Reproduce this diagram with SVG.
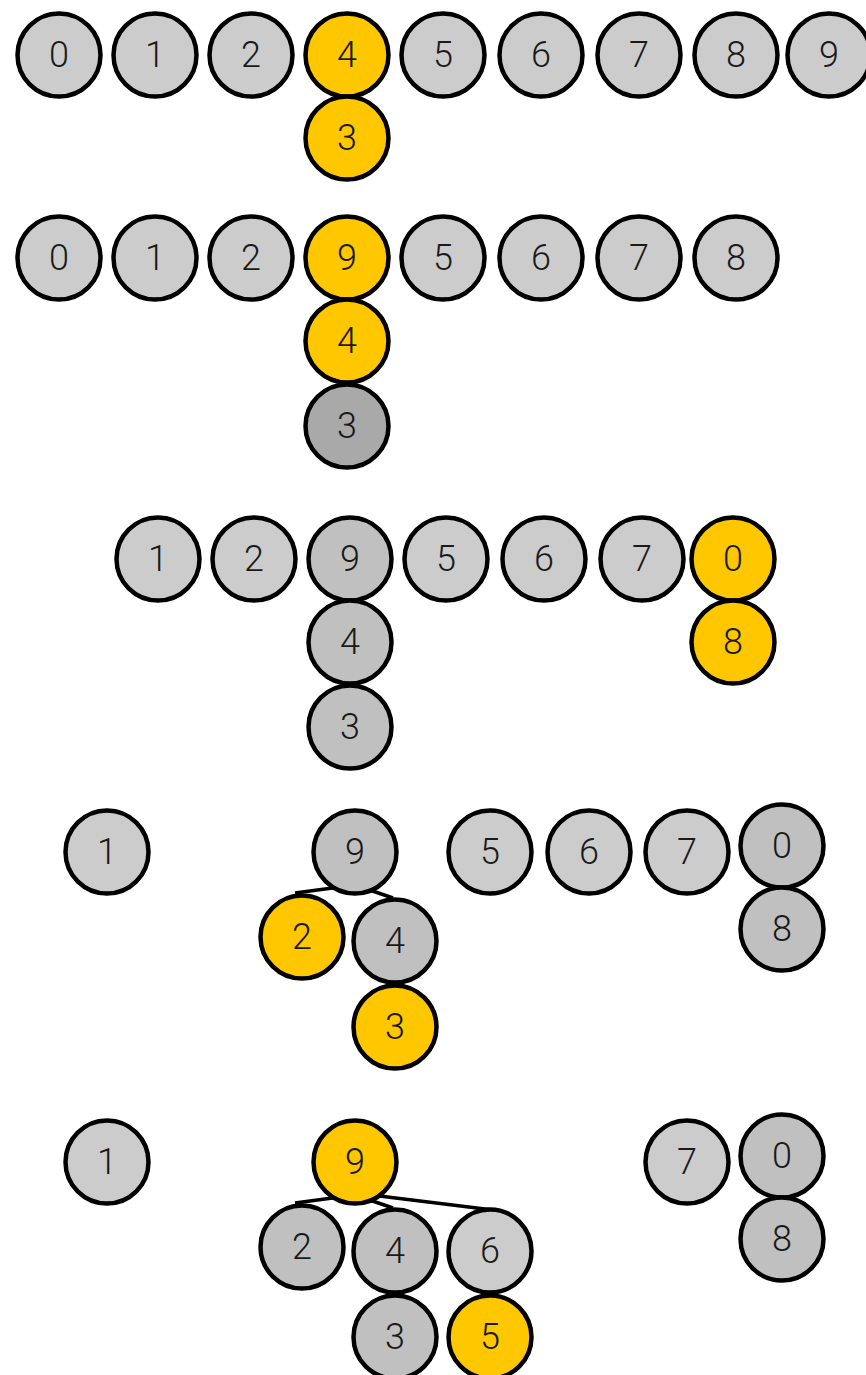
<svg xmlns="http://www.w3.org/2000/svg" width="866" height="1375" viewBox="0 0 866 1375">
<style>
circle{stroke:#000;stroke-width:4.5}
.s{fill:#cccccc}
.t{fill:#c0c0c0}
.g{fill:#ffc700}
.d{fill:#a9a9a9}
text{font-family:Roboto,"Open Sans","Liberation Sans",sans-serif;font-weight:300;font-size:36px;fill:#1a1a1a;text-anchor:middle;dominant-baseline:central}
.e line{stroke:#000;stroke-width:3.5}
</style>
<g id="connectors" class="e">
<line x1="295" y1="893" x2="355" y2="885"/>
<line x1="393" y1="898" x2="355" y2="885"/>
<line x1="295" y1="1203" x2="355" y2="1195"/>
<line x1="393" y1="1208" x2="355" y2="1195"/>
<line x1="355" y1="1193" x2="493" y2="1210"/>
</g>
<!-- Row 1 -->
<g id="r1n0"><circle class="s" cx="59" cy="55" r="41.5"/><text x="59" y="55">0</text></g>
<g id="r1n1"><circle class="s" cx="155" cy="55" r="41.5"/><text x="155" y="55">1</text></g>
<g id="r1n2"><circle class="s" cx="251" cy="55" r="41.5"/><text x="251" y="55">2</text></g>
<g id="r1n4"><circle class="g" cx="347" cy="55" r="41.5"/><text x="347" y="55">4</text></g>
<g id="r1n3"><circle class="g" cx="347" cy="138" r="41.5"/><text x="347" y="138">3</text></g>
<g id="r1n5"><circle class="s" cx="443" cy="55" r="41.5"/><text x="443" y="55">5</text></g>
<g id="r1n6"><circle class="s" cx="541" cy="55" r="41.5"/><text x="541" y="55">6</text></g>
<g id="r1n7"><circle class="s" cx="639" cy="55" r="41.5"/><text x="639" y="55">7</text></g>
<g id="r1n8"><circle class="s" cx="736" cy="55" r="41.5"/><text x="736" y="55">8</text></g>
<g id="r1n9"><circle class="s" cx="829" cy="55" r="41.5"/><text x="829" y="55">9</text></g>
<!-- Row 2 -->
<g id="r2n0"><circle class="s" cx="59" cy="258" r="41.5"/><text x="59" y="258">0</text></g>
<g id="r2n1"><circle class="s" cx="155" cy="258" r="41.5"/><text x="155" y="258">1</text></g>
<g id="r2n2"><circle class="s" cx="251" cy="258" r="41.5"/><text x="251" y="258">2</text></g>
<g id="r2n9"><circle class="g" cx="347" cy="258" r="41.5"/><text x="347" y="258">9</text></g>
<g id="r2n4"><circle class="g" cx="347" cy="341" r="41.5"/><text x="347" y="341">4</text></g>
<g id="r2n3"><circle class="d" cx="347" cy="426" r="41.5"/><text x="347" y="426">3</text></g>
<g id="r2n5"><circle class="s" cx="443" cy="258" r="41.5"/><text x="443" y="258">5</text></g>
<g id="r2n6"><circle class="s" cx="541" cy="258" r="41.5"/><text x="541" y="258">6</text></g>
<g id="r2n7"><circle class="s" cx="639" cy="258" r="41.5"/><text x="639" y="258">7</text></g>
<g id="r2n8"><circle class="s" cx="736" cy="258" r="41.5"/><text x="736" y="258">8</text></g>
<!-- Row 3 -->
<g id="r3n1"><circle class="s" cx="158" cy="559" r="41.5"/><text x="158" y="559">1</text></g>
<g id="r3n2"><circle class="s" cx="254" cy="559" r="41.5"/><text x="254" y="559">2</text></g>
<g id="r3n9"><circle class="t" cx="350" cy="559" r="41.5"/><text x="350" y="559">9</text></g>
<g id="r3n4"><circle class="t" cx="350" cy="642" r="41.5"/><text x="350" y="642">4</text></g>
<g id="r3n3"><circle class="t" cx="350" cy="727" r="41.5"/><text x="350" y="727">3</text></g>
<g id="r3n5"><circle class="s" cx="446" cy="559" r="41.5"/><text x="446" y="559">5</text></g>
<g id="r3n6"><circle class="s" cx="544" cy="559" r="41.5"/><text x="544" y="559">6</text></g>
<g id="r3n7"><circle class="s" cx="642" cy="559" r="41.5"/><text x="642" y="559">7</text></g>
<g id="r3n0"><circle class="g" cx="733" cy="559" r="41.5"/><text x="733" y="559">0</text></g>
<g id="r3n8"><circle class="g" cx="733" cy="642" r="41.5"/><text x="733" y="642">8</text></g>
<!-- Row 4 -->
<g id="r4n1"><circle class="s" cx="107" cy="852" r="41.5"/><text x="107" y="852">1</text></g>
<g id="r4n9"><circle class="t" cx="355" cy="852" r="41.5"/><text x="355" y="852">9</text></g>
<g id="r4n2"><circle class="g" cx="302" cy="937" r="41.5"/><text x="302" y="937">2</text></g>
<g id="r4n4"><circle class="t" cx="395" cy="941" r="41.5"/><text x="395" y="941">4</text></g>
<g id="r4n3"><circle class="g" cx="395" cy="1027" r="41.5"/><text x="395" y="1027">3</text></g>
<g id="r4n5"><circle class="s" cx="490" cy="852" r="41.5"/><text x="490" y="852">5</text></g>
<g id="r4n6"><circle class="s" cx="589" cy="852" r="41.5"/><text x="589" y="852">6</text></g>
<g id="r4n7"><circle class="s" cx="687" cy="852" r="41.5"/><text x="687" y="852">7</text></g>
<g id="r4n0"><circle class="t" cx="782" cy="846" r="41.5"/><text x="782" y="846">0</text></g>
<g id="r4n8"><circle class="t" cx="782" cy="929" r="41.5"/><text x="782" y="929">8</text></g>
<!-- Row 5 -->
<g id="r5n1"><circle class="s" cx="107" cy="1162" r="41.5"/><text x="107" y="1162">1</text></g>
<g id="r5n9"><circle class="g" cx="355" cy="1162" r="41.5"/><text x="355" y="1162">9</text></g>
<g id="r5n2"><circle class="t" cx="302" cy="1247" r="41.5"/><text x="302" y="1247">2</text></g>
<g id="r5n4"><circle class="t" cx="395" cy="1251" r="41.5"/><text x="395" y="1251">4</text></g>
<g id="r5n6"><circle class="s" cx="490" cy="1251" r="41.5"/><text x="490" y="1251">6</text></g>
<g id="r5n3"><circle class="t" cx="395" cy="1337" r="41.5"/><text x="395" y="1337">3</text></g>
<g id="r5n5"><circle class="g" cx="490" cy="1337" r="41.5"/><text x="490" y="1337">5</text></g>
<g id="r5n7"><circle class="s" cx="687" cy="1162" r="41.5"/><text x="687" y="1162">7</text></g>
<g id="r5n0"><circle class="t" cx="782" cy="1156" r="41.5"/><text x="782" y="1156">0</text></g>
<g id="r5n8"><circle class="t" cx="782" cy="1239" r="41.5"/><text x="782" y="1239">8</text></g>
</svg>
